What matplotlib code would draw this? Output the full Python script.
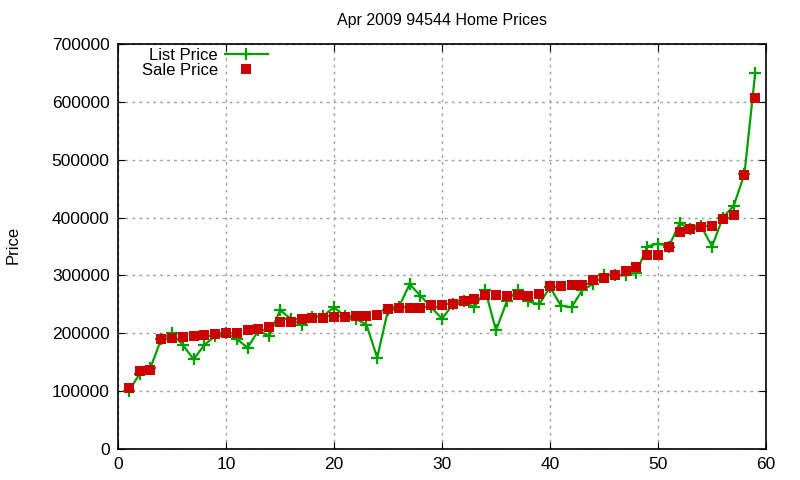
import numpy as np
import matplotlib.pyplot as plt

plt.rcParams['font.family'] = ['Liberation Sans', 'DejaVu Sans']

# indice das casas (1..59)
idx = list(range(1, 60))

list_price = [100000, 130000, 140000, 190000, 200000, 180000, 155000, 180000, 195000, 200000,
              190000, 175000, 205000, 195000, 240000, 225000, 215000, 228000, 230000, 245000,
              230000, 225000, 215000, 158000, 240000, 245000, 285000, 265000, 245000, 225000,
              250000, 255000, 245000, 275000, 205000, 255000, 275000, 255000, 250000, 280000,
              248000, 245000, 275000, 285000, 300000, 300000, 300000, 305000, 350000, 355000,
              350000, 390000, 380000, 385000, 350000, 400000, 420000, 475000, 650000]

sale_price = [105000, 135000, 137000, 190000, 191000, 193000, 196000, 197000, 199000, 200000,
              200000, 205000, 208000, 210000, 220000, 220000, 225000, 226000, 226000, 228000,
              229000, 230000, 230000, 232000, 242000, 244000, 244000, 244000, 249000, 249000,
              250000, 255000, 260000, 266000, 266000, 265000, 266000, 265000, 268000, 281000,
              281000, 284000, 284000, 292000, 295000, 300000, 308000, 315000, 335000, 335000,
              350000, 375000, 380000, 383000, 385000, 397000, 405000, 473000, 606000]

fig = plt.figure(figsize=(8, 4.8), dpi=100)
ax = fig.add_axes([0.1475, 0.0646, 0.81, 0.8437])

ax.plot(idx, list_price, color='#00a000', lw=1.6, marker='+', ms=8, mew=1.6, label='List Price')
ax.plot(idx, sale_price, ls='none', marker='s', ms=6.6, mew=0, color='#cc0000', label='Sale Price')

ax.set_xlim(0, 60)
ax.set_ylim(0, 700000)
ax.set_xticks(range(0, 61, 10))
ax.set_yticks(range(0, 700001, 100000))
ax.tick_params(direction='in', top=True, right=True, labelsize=12.5, length=5, pad=6)
ax.grid(True, ls=(0, (2, 3)), color='#a0a0a0', lw=1)
for s in ax.spines.values():
    s.set_linewidth(1.2)

ax.set_title('Apr 2009 94544 Home Prices', fontsize=11.5, pad=14)
fig.text(0.016, 0.49, 'Price', rotation=90, fontsize=12, va='center', ha='center')

ax.legend(loc='upper right', bbox_to_anchor=(0.2315, 0.99), markerfirst=False, frameon=False,
          fontsize=12, handlelength=2.6, borderaxespad=0, borderpad=0, labelspacing=0.0,
          handletextpad=0.4)

plt.savefig('out.png', dpi=100)
